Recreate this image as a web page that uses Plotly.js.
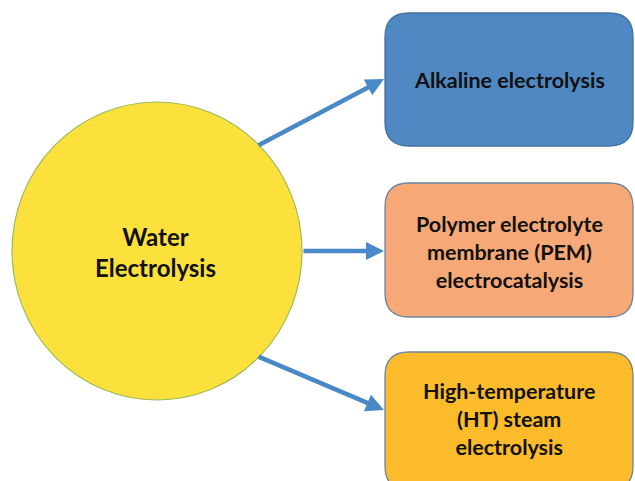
<!DOCTYPE html>
<html>
<head>
<meta charset="utf-8">
<script src="https://cdn.plot.ly/plotly-3.0.1.min.js"></script>
<style>html,body{margin:0;padding:0;background:#fff;}#chart{width:635px;height:481px;}</style>
</head>
<body>
<div id="chart"></div>
<script>
// Diagram content
const centerLabel = ["Water", "Electrolysis"];
const methodLabels = [
  ["Alkaline electrolysis"],
  ["Polymer electrolyte", "membrane (PEM)", "electrocatalysis"],
  ["High-temperature", "(HT) steam", "electrolysis"]
];

// Layout geometry (pixel space, y downwards)
const circle = {x0: 12, x1: 302, y0: 102, y1: 400};
const boxes = [
  {x0: 385, x1: 633, y0: 13, y1: 146, fill: "#4F88C2", line: "#41719C", ty: 80},
  {x0: 385, x1: 633, y0: 183, y1: 317, fill: "#F6A877", line: "#6E84A0", ty: 252},
  {x0: 385, x1: 633, y0: 352, y1: 490, fill: "#FBBB2A", line: "#6E84A0", ty: 419}
];
const arrows = [
  {x0: 257, y0: 146, x1: 384, y1: 79},
  {x0: 302, y0: 251, x1: 384, y1: 251},
  {x0: 257, y0: 356, x1: 384, y1: 410}
];

function roundRect(b, r) {
  return `M ${b.x0+r},${b.y0} L ${b.x1-r},${b.y0} Q ${b.x1},${b.y0} ${b.x1},${b.y0+r} ` +
         `L ${b.x1},${b.y1-r} Q ${b.x1},${b.y1} ${b.x1-r},${b.y1} L ${b.x0+r},${b.y1} ` +
         `Q ${b.x0},${b.y1} ${b.x0},${b.y1-r} L ${b.x0},${b.y0+r} Q ${b.x0},${b.y0} ${b.x0+r},${b.y0} Z`;
}

const shapes = [];
shapes.push({type: "circle", xref: "x", yref: "y", x0: circle.x0, x1: circle.x1, y0: circle.y0, y1: circle.y1,
  fillcolor: "#FCE13D", line: {color: "#9BBB59", width: 1.2}, layer: "above"});
boxes.forEach(b => shapes.push({type: "path", xref: "x", yref: "y", path: roundRect(b, 24),
  fillcolor: b.fill, line: {color: b.line, width: 1.3}, layer: "above"}));

const font = {family: "Lato, 'Open Sans', sans-serif", color: "#111", size: 21.5, weight: 700};
const annotations = [];
arrows.forEach(a => annotations.push({
  x: a.x1, y: a.y1, ax: a.x0, ay: a.y0, xref: "x", yref: "y", axref: "x", ayref: "y",
  showarrow: true, arrowhead: 2, arrowsize: 0.8, arrowwidth: 4.5, arrowcolor: "#4A89C7", text: "", standoff: 0
}));
annotations.push({
  x: 155, y: 252, xref: "x", yref: "y", showarrow: false,
  text: "<b>" + centerLabel.join("<br>") + "</b>", font: Object.assign({}, font, {size: 24}),
  align: "center", yanchor: "middle"
});
methodLabels.forEach((lines, i) => annotations.push({
  x: (boxes[i].x0 + boxes[i].x1) / 2, y: boxes[i].ty, xref: "x", yref: "y", showarrow: false,
  text: "<b>" + lines.join("<br>") + "</b>", font: font, align: "center", yanchor: "middle"
}));

const layout = {
  width: 635, height: 481,
  margin: {l: 0, r: 0, t: 0, b: 0},
  paper_bgcolor: "#ffffff", plot_bgcolor: "#ffffff",
  xaxis: {range: [0, 635], visible: false, fixedrange: true},
  yaxis: {range: [481, 0], visible: false, fixedrange: true},
  showlegend: false,
  shapes: shapes,
  annotations: annotations
};
Plotly.newPlot("chart", [{x: [], y: [], type: "scatter"}], layout, {displayModeBar: false, staticPlot: true});
</script>
</body>
</html>
